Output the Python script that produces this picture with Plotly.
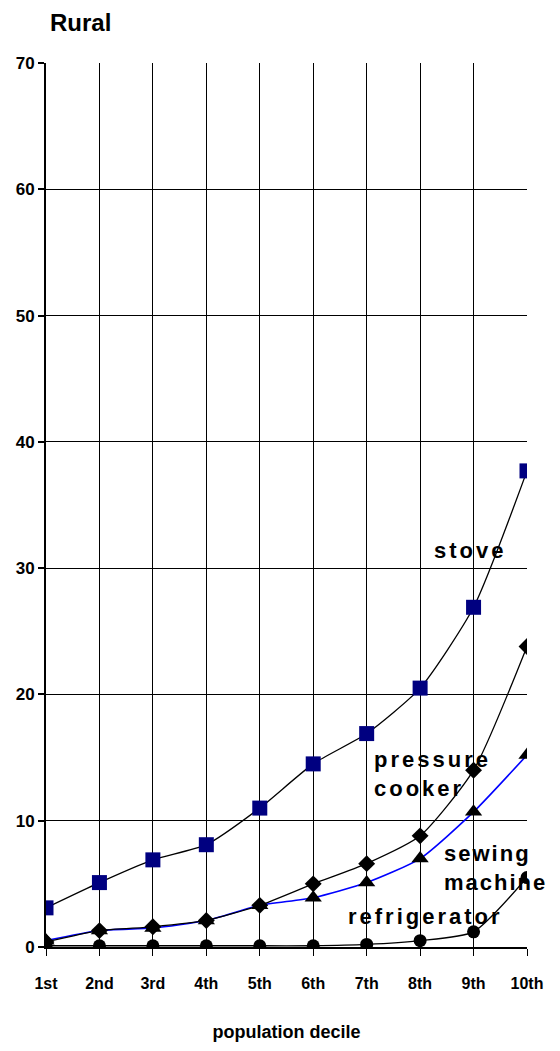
import plotly.graph_objects as go

deciles = ["1st", "2nd", "3rd", "4th", "5th", "6th", "7th", "8th", "9th", "10th"]
stove = [3.1, 5.1, 6.9, 8.1, 11.0, 14.5, 16.9, 20.5, 26.9, 37.7]
pressure_cooker = [0.4, 1.3, 1.6, 2.1, 3.3, 5.0, 6.6, 8.8, 14.0, 23.8]
sewing_machine = [0.5, 1.3, 1.5, 2.1, 3.3, 3.9, 5.1, 7.0, 10.7, 15.2]
refrigerator = [0.1, 0.1, 0.1, 0.1, 0.1, 0.1, 0.2, 0.5, 1.2, 5.5]

FONT = "Arial, 'Liberation Sans', sans-serif"

fig = go.Figure()
fig.add_trace(go.Scatter(x=deciles, y=refrigerator, mode="lines+markers",
                         line=dict(color="black", width=1.3, shape="spline", smoothing=0.6),
                         marker=dict(symbol="circle", size=13, color="black"), name="refrigerator"))
fig.add_trace(go.Scatter(x=deciles, y=sewing_machine, mode="lines+markers",
                         line=dict(color="#0000ff", width=1.6, shape="spline", smoothing=0.6),
                         marker=dict(symbol="triangle-up", size=15, color="black"), name="sewing machine"))
fig.add_trace(go.Scatter(x=deciles, y=pressure_cooker, mode="lines+markers",
                         line=dict(color="black", width=1.3, shape="spline", smoothing=0.6),
                         marker=dict(symbol="diamond", size=13, color="black"), name="pressure cooker"))
fig.add_trace(go.Scatter(x=deciles, y=stove, mode="lines+markers",
                         line=dict(color="black", width=1.3, shape="spline", smoothing=0.6),
                         marker=dict(symbol="square", size=15, color="#000080"), name="stove"))

# paper coords: plot area x 46..527, y 63..949
def px(xp):
    return (xp - 46) / (527 - 46)
def py(yp):
    return (949 - yp) / (949 - 63)

def lab(text, x, y, spacing=3):
    fig.add_annotation(text=f"<b><span style='letter-spacing:{spacing}px'>{text}</span></b>",
                       x=px(x), y=py(y), xref="paper", yref="paper", xanchor="left", yanchor="middle",
                       showarrow=False, align="left",
                       font=dict(family=FONT, size=22, color="black"))

lab("stove", 432, 552)
lab("pressure<br>cooker", 372, 776)
lab("sewing<br>machine", 442, 870, spacing=2)
lab("refrigerator", 346, 918)

fig.add_annotation(text="<b>Rural</b>", x=px(48), y=py(22), xref="paper", yref="paper",
                   xanchor="left", yanchor="middle", showarrow=False,
                   font=dict(family=FONT, size=24, color="black"))

fig.update_layout(
    width=560, height=1051,
    margin=dict(l=46, r=33, t=63, b=102),
    paper_bgcolor="white", plot_bgcolor="white",
    showlegend=False,
    font=dict(family=FONT, color="black"),
)
fig.update_xaxes(
    type="category", range=[0, 9],
    showgrid=True, gridcolor="black", gridwidth=1,
    ticks="outside", ticklen=7, tickcolor="black", tickwidth=1,
    ticklabelstandoff=14,
    tickfont=dict(family=FONT, size=16, color="black", weight="bold"),
    showline=True, linecolor="black", linewidth=2,
    title=dict(text="population decile", font=dict(family=FONT, size=18, color="black", weight="bold"), standoff=34),
    zeroline=False,
)
fig.update_yaxes(
    range=[0, 70], tickvals=[0, 10, 20, 30, 40, 50, 60, 70],
    showgrid=True, gridcolor="black", gridwidth=1,
    ticks="outside", ticklen=6, tickcolor="black", tickwidth=2,
    tickfont=dict(family=FONT, size=17, color="black", weight="bold"),
    showline=True, linecolor="black", linewidth=2,
    zeroline=False,
)

fig.write_html("out.html", config={"displayModeBar": False},
               post_script="document.body.style.margin='0';document.body.style.overflow='hidden';")
